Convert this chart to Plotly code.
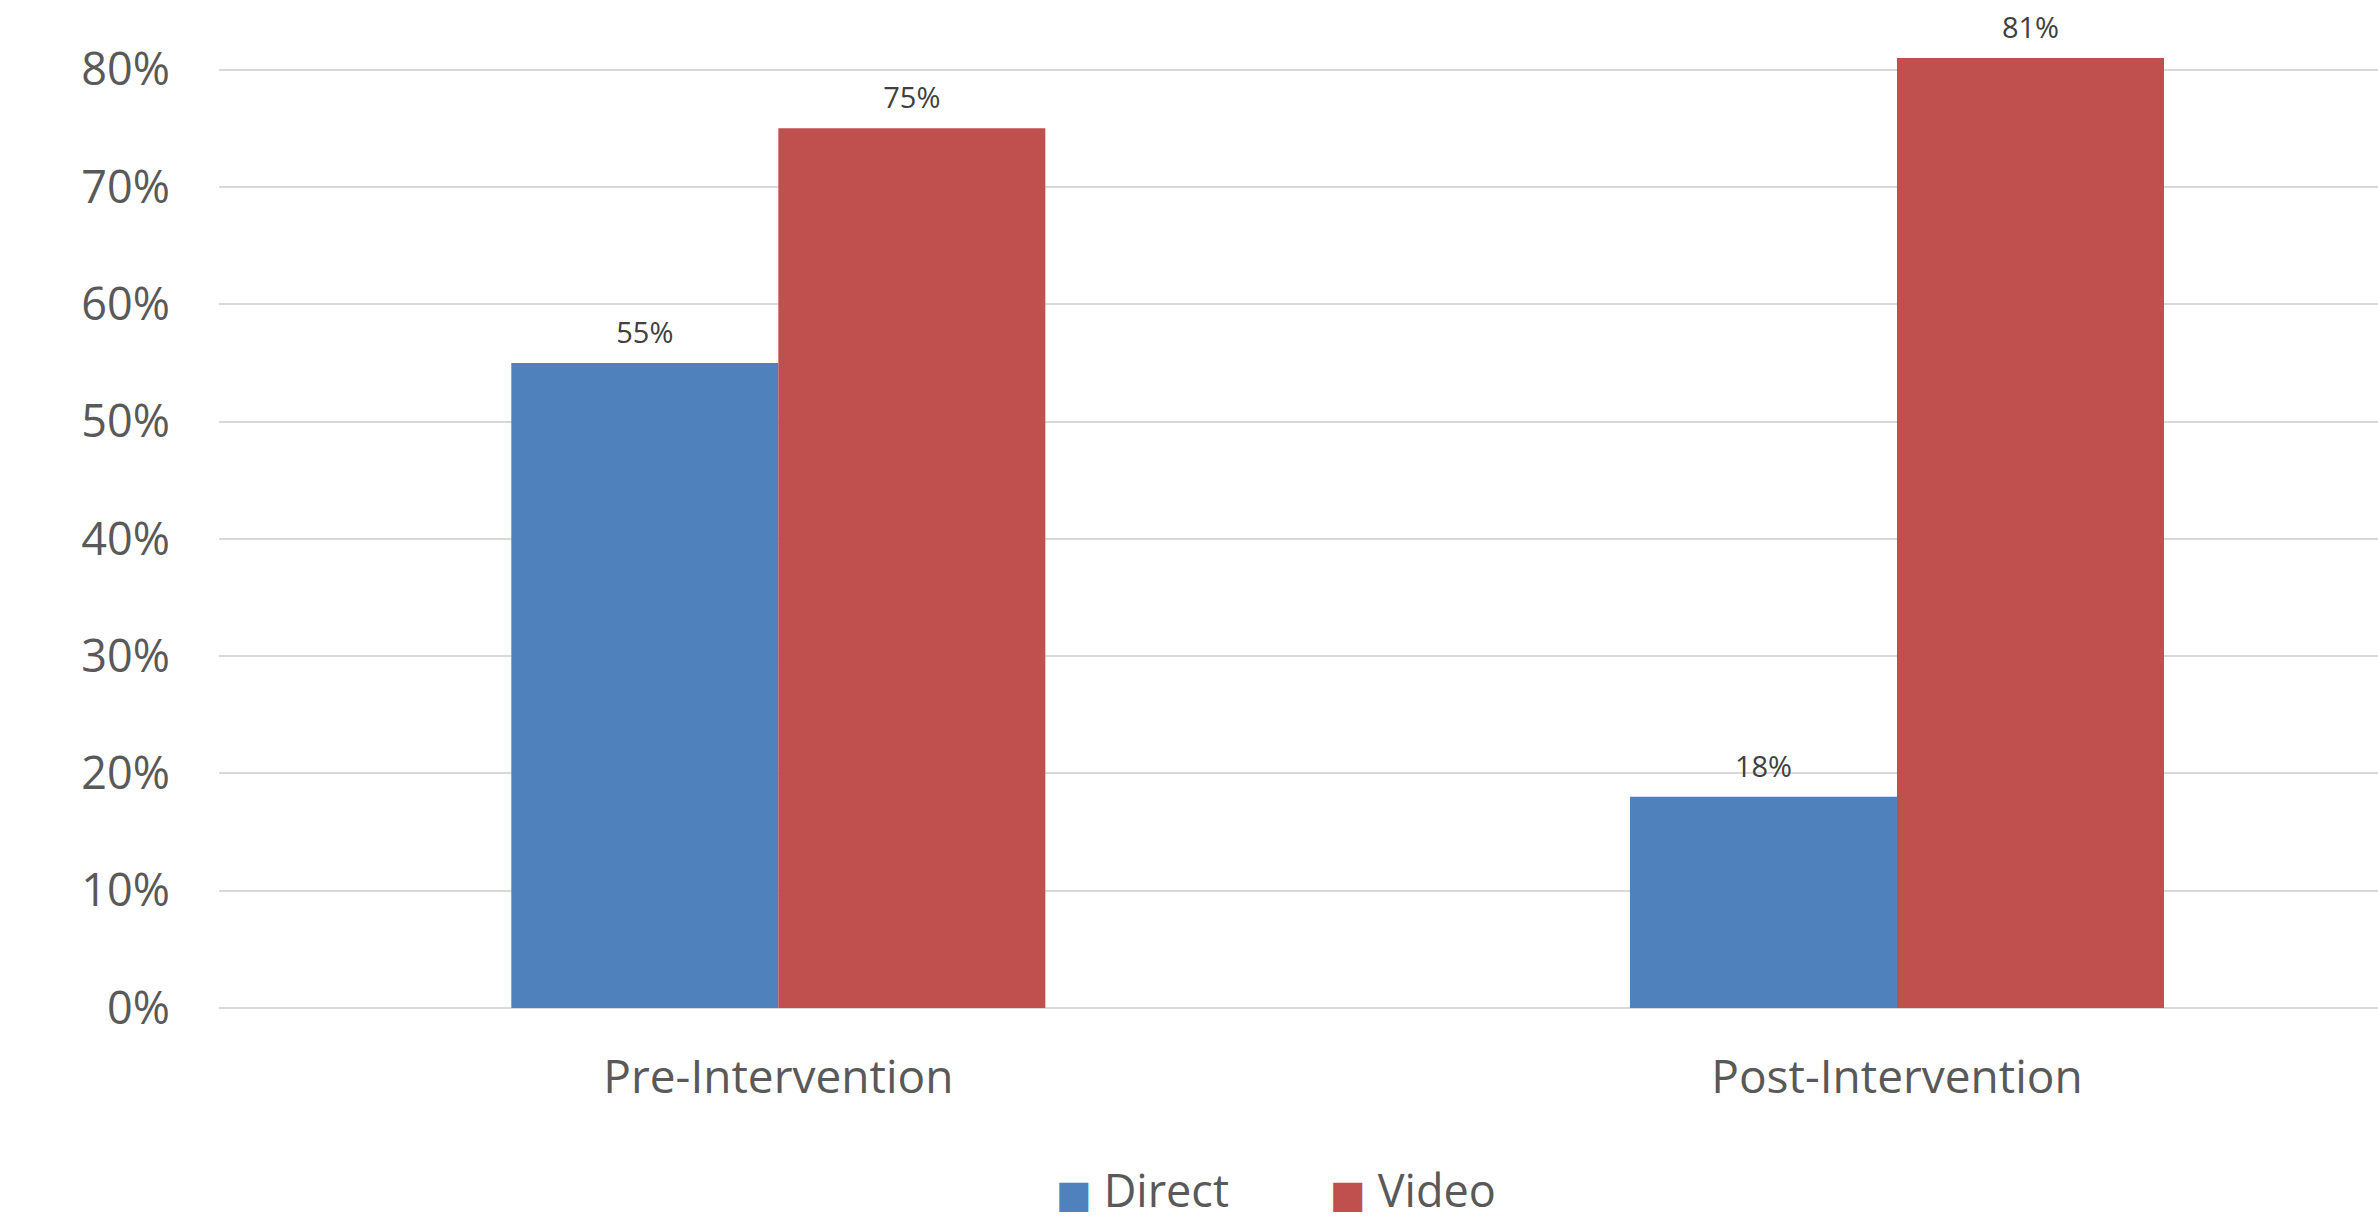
import plotly.graph_objects as go

categories = ["Pre-Intervention", "Post-Intervention"]
direct_values = [0.55, 0.18]
video_values = [0.75, 0.81]
series_names = ["Direct", "Video"]
y_tick_values = [0, 0.1, 0.2, 0.3, 0.4, 0.5, 0.6, 0.7, 0.8]
y_tick_labels = ["0%", "10%", "20%", "30%", "40%", "50%", "60%", "70%", "80%"]

BLUE = "#4F81BD"
RED = "#C0504D"
FONT = "Open Sans"
GAP = 0.5226

fig = go.Figure()
series = [(series_names[0], direct_values, BLUE), (series_names[1], video_values, RED)]

# bars
for name, vals, col in series:
    fig.add_trace(go.Bar(
        x=categories, y=vals, name=name, legendgroup=name, showlegend=False,
        offsetgroup=name, alignmentgroup="all",
        marker=dict(color=col, line=dict(width=0)),
    ))

# data labels, grouped like the bars (invisible markers push the text up)
for name, vals, col in series:
    fig.add_trace(go.Scatter(
        x=categories, y=vals, name=name, legendgroup=name, showlegend=False,
        offsetgroup=name, alignmentgroup="all",
        mode="markers+text",
        marker=dict(size=19, opacity=0, color=col),
        text=[f"{v*100:.0f}%" for v in vals],
        textposition="top center",
        textfont=dict(family=FONT, size=29, color="#404040"),
        cliponaxis=False, hoverinfo="skip",
    ))

# legend entries with large square swatches
for name, vals, col in series:
    fig.add_trace(go.Scatter(
        x=[None], y=[None], mode="markers", legendgroup=name,
        marker=dict(size=1, opacity=0, color="rgba(0,0,0,0)", line=dict(width=0, color="rgba(0,0,0,0)")),
        name=f'<span style="color:{col};font-family:DejaVu Sans;font-size:38px">■</span> {name}',
        showlegend=True,
    ))

fig.update_layout(
    width=2378, height=1219,
    margin=dict(l=219, r=0, t=11, b=211, autoexpand=False),
    paper_bgcolor="white", plot_bgcolor="white",
    barmode="group", bargap=GAP, bargroupgap=0,
    scattermode="group", scattergap=GAP,
    font=dict(family=FONT, size=45, color="#595959"),
    showlegend=True,
    legend=dict(
        orientation="h", x=0.3692, xanchor="left", y=-0.1825, yanchor="middle",
        font=dict(family=FONT, size=45, color="#595959"),
        entrywidth=229, entrywidthmode="pixels",
        bgcolor="rgba(0,0,0,0)", itemclick="toggleothers",
    ),
    xaxis=dict(
        range=[-0.5, 1.43], showgrid=False, showline=False, ticks="",
        tickfont=dict(family=FONT, size=46, color="#595959"),
        ticklabelstandoff=38,
    ),
    yaxis=dict(
        range=[0, 0.85], tickvals=y_tick_values, ticktext=y_tick_labels,
        showgrid=True, gridcolor="#D9D9D9", gridwidth=1.5,
        zeroline=True, zerolinecolor="#D9D9D9", zerolinewidth=2,
        showline=False, ticks="",
        tickfont=dict(family=FONT, size=45, color="#595959"),
        ticklabelstandoff=48,
    ),
)

fig.write_html("out.html")
